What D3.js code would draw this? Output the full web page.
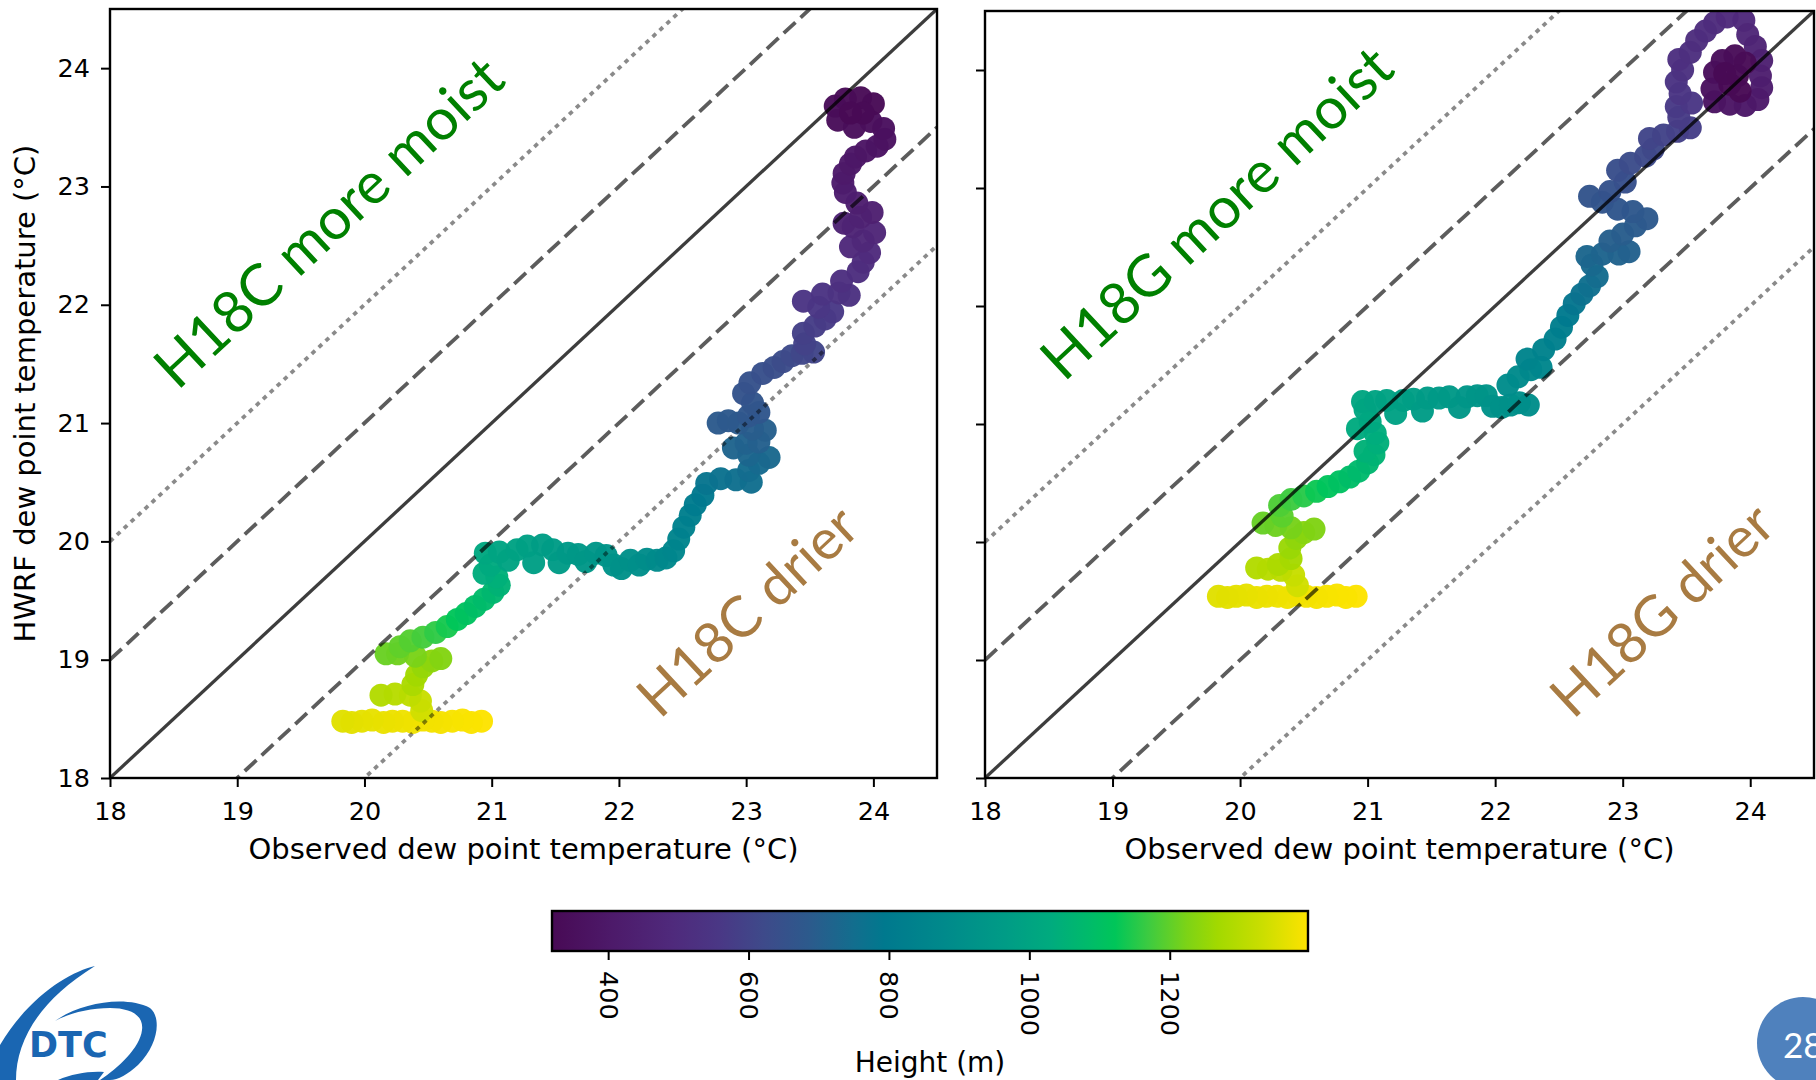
<!DOCTYPE html>
<html>
<head>
<meta charset="utf-8">
<script src="https://cdn.jsdelivr.net/npm/d3@7"></script>
<style>
  html, body { margin: 0; padding: 0; background: #fff; }
  svg { display: block; }
</style>
</head>
<body>
<svg id="fig" width="1816" height="1080"></svg>
<script>
// ---------------------------------------------------------------
// Dropsonde profile: observed vs HWRF dew point, coloured by height
// rows: [observed dew point (°C), HWRF dew point (°C), height (m)]
// ---------------------------------------------------------------
const h18c = [
  [20.92,18.48,1397],[20.84,18.47,1395],[20.77,18.49,1393],[20.69,18.48,1391],[20.60,18.47,1388],
  [20.53,18.48,1386],[20.46,18.49,1384],[20.38,18.47,1381],[20.30,18.48,1378],[20.22,18.48,1375],
  [20.15,18.47,1372],[20.06,18.49,1369],[19.98,18.48,1366],[19.90,18.47,1363],[19.83,18.48,1360],
  [20.45,18.57,1340],[20.44,18.65,1328],[20.36,18.70,1314],[20.24,18.71,1302],[20.13,18.70,1294],
  [20.38,18.79,1282],[20.41,18.87,1268],[20.46,18.94,1254],[20.53,18.99,1242],[20.60,19.01,1232],
  [20.40,19.03,1222],[20.26,19.05,1214],[20.17,19.05,1208],[20.28,19.11,1200],[20.36,19.16,1190],
  [20.46,19.19,1176],[20.56,19.23,1160],[20.65,19.28,1140],[20.73,19.34,1120],[20.80,19.39,1108],
  [20.87,19.45,1096],[20.94,19.51,1084],[21.01,19.57,1070],[21.06,19.63,1056],[21.04,19.70,1044],
  [20.94,19.73,1034],[20.99,19.80,1024],[20.95,19.90,1012],
  [21.06,19.91,1002],[21.13,19.84,996],[21.20,19.93,990],[21.28,19.96,984],[21.33,19.82,978],
  [21.40,19.97,972],[21.48,19.93,966],[21.53,19.82,960],[21.60,19.90,954],[21.68,19.89,948],
  [21.74,19.83,942],[21.82,19.90,936],[21.90,19.88,930],[21.96,19.80,922],[22.02,19.77,914],
  [22.09,19.84,906],[22.16,19.80,898],[22.22,19.85,890],[22.30,19.84,882],[22.37,19.86,872],
  [22.43,19.92,862],
  [22.47,20.02,850],[22.51,20.12,836],[22.56,20.22,822],[22.60,20.31,808],[22.66,20.39,792],
  [22.69,20.49,778],[22.80,20.53,768],[22.92,20.52,760],[23.04,20.50,752],[23.02,20.60,745],
  [23.10,20.66,738],[23.18,20.71,731],[23.02,20.73,725],[22.90,20.79,719],[23.00,20.83,713],
  [23.10,20.84,707],[23.15,20.94,701],[23.05,20.95,696],[22.94,21.00,691],[22.78,21.00,686],
  [22.86,21.02,681],[23.02,21.06,676],[23.10,21.09,671],[23.05,21.17,665],[22.98,21.25,659],
  [23.03,21.34,652],[23.13,21.42,644],[23.22,21.47,636],[23.29,21.52,628],[23.36,21.57,620],
  [23.44,21.59,612],[23.53,21.60,604],[23.46,21.67,596],[23.45,21.76,588],[23.54,21.82,580],
  [23.62,21.88,572],[23.68,21.94,564],[23.57,21.98,556],[23.45,22.03,549],[23.60,22.09,542],
  [23.73,22.10,536],[23.81,22.08,530],[23.75,22.20,522],[23.88,22.28,514],[23.92,22.36,505],
  [23.97,22.44,496],[23.82,22.49,488],[23.92,22.54,480],[24.01,22.61,472],[23.84,22.66,464],
  [23.77,22.69,456],[23.90,22.74,448],[23.99,22.78,440],[23.87,22.86,432],[23.78,22.95,424],
  [23.76,23.03,416],[23.77,23.11,408],[23.82,23.19,400],[23.86,23.25,392],[23.94,23.30,384],
  [24.03,23.34,376],[24.09,23.40,368],[24.08,23.49,360],[23.98,23.55,354],[23.85,23.50,348],
  [23.72,23.56,342],[23.70,23.68,337],[23.78,23.74,333],[23.90,23.75,329],[24.00,23.70,326],
  [23.92,23.62,323],[23.82,23.62,320]
];

const h18g = [
  [20.91,19.54,1397],[20.83,19.53,1395],[20.76,19.55,1393],[20.68,19.54,1391],[20.60,19.53,1388],
  [20.52,19.54,1386],[20.45,19.55,1384],[20.37,19.53,1381],[20.29,19.54,1378],[20.21,19.54,1375],
  [20.13,19.53,1372],[20.05,19.55,1369],[19.97,19.54,1366],[19.90,19.53,1363],[19.83,19.54,1360],
  [20.45,19.63,1340],[20.42,19.72,1326],[20.32,19.76,1312],[20.22,19.77,1302],[20.13,19.78,1294],
  [20.30,19.81,1284],[20.40,19.86,1272],[20.39,19.95,1258],[20.44,20.03,1246],[20.50,20.08,1236],
  [20.58,20.11,1228],[20.40,20.12,1220],[20.28,20.14,1212],[20.18,20.16,1206],[20.33,20.22,1196],
  [20.31,20.31,1184],[20.40,20.36,1170],[20.50,20.39,1154],[20.60,20.43,1132],[20.69,20.47,1116],
  [20.78,20.51,1104],[20.86,20.55,1092],[20.93,20.60,1080],[21.00,20.67,1068],[21.05,20.74,1058],
  [20.98,20.77,1050],[21.08,20.84,1042],[21.06,20.92,1034],[20.92,20.96,1026],[21.02,21.02,1018],
  [20.98,21.12,1010],[20.96,21.19,1004],
  [21.06,21.19,998],[21.15,21.20,992],[21.22,21.09,986],[21.28,21.20,980],[21.36,21.21,974],
  [21.43,21.11,968],[21.47,21.22,962],[21.56,21.22,956],[21.64,21.23,950],[21.72,21.14,944],
  [21.78,21.23,938],[21.86,21.24,932],[21.93,21.24,926],[21.98,21.15,920],[22.05,21.14,914],
  [22.12,21.16,908],[22.19,21.18,902],[22.26,21.16,896],
  [22.10,21.33,888],[22.18,21.40,878],[22.28,21.46,868],[22.36,21.48,860],[22.25,21.55,852],
  [22.38,21.63,842],[22.47,21.72,830],[22.52,21.82,818],[22.57,21.92,800],[22.62,22.02,782],
  [22.68,22.10,768],[22.74,22.17,756],[22.80,22.25,744],[22.76,22.35,734],[22.72,22.42,726],
  [22.84,22.44,720],[22.97,22.44,714],[23.05,22.46,708],[22.90,22.55,702],[23.00,22.61,696],
  [23.10,22.68,690],[23.19,22.74,684],[23.08,22.80,678],[22.96,22.82,672],[22.84,22.88,666],
  [22.74,22.93,660],[22.90,22.97,654],[23.02,23.05,646],[22.96,23.15,638],[23.06,23.21,630],
  [23.18,23.27,622],[23.24,23.33,614],[23.21,23.42,606],[23.32,23.45,598],[23.43,23.48,590],
  [23.53,23.51,582],[23.44,23.60,574],[23.42,23.69,566],[23.54,23.72,558],[23.45,23.80,550],
  [23.42,23.90,540],[23.47,24.00,530],[23.44,24.09,522],[23.53,24.15,516],[23.58,24.25,510],
  [23.65,24.33,505],[23.72,24.40,500],[23.82,24.45,494],[23.95,24.42,486],[23.98,24.30,474],
  [24.04,24.20,460],[24.09,24.08,446],[24.08,23.95,432],[24.09,23.85,420],[24.06,23.75,408],
  [23.96,23.70,396],[23.84,23.71,384],[23.72,23.73,372],[23.70,23.84,362],[23.72,23.98,352],
  [23.78,24.08,344],[23.88,24.12,336],[23.96,24.06,330],[23.90,23.95,325],[23.84,23.88,322],
  [23.80,23.97,321],[23.92,23.82,320]
];

// axis ticks and reference-line offsets (model minus observation, °C)
const tempTicks = [18, 19, 20, 21, 22, 23, 24];
const tempDomain = [18, 24.5];
const lineOffsets = [-2, -1, 0, 1, 2];
const heightTicks = [400, 600, 800, 1000, 1200];
const heightDomain = [320, 1397];

// colour map (fraction along the bar -> colour)
const cmapPos = [0, 0.08, 0.16, 0.22, 0.28, 0.34, 0.40, 0.44, 0.52, 0.60, 0.66, 0.71, 0.745, 0.79, 0.84, 0.88, 0.94, 1];
const cmapHex = ["#480a55","#4d1a6a","#4f2a7c","#4a3785","#3e4a8a","#2c5a8c","#126e8e","#00798e","#008a8b",
                 "#009c86","#00ab7e","#00bb6a","#00c659","#3ecb40","#7dd316","#a2d900","#cbde00","#fde300"];

const panelNames = ["H18C", "H18G"];
const moistText = panelNames.map(n => n + " more moist");
const drierText = panelNames.map(n => n + " drier");
const xLabel = "Observed dew point temperature (°C)";
const yLabel = "HWRF dew point temperature (°C)";
const cbarLabel = "Height (m)";

// ---------------------------------------------------------------
const svg = d3.select("#fig");
const defs = svg.append("defs");
const tickFont = "'DejaVu Sans', sans-serif";
const noteFont = "Lato, 'Open Sans', sans-serif";
const intFmt = d3.format("d");
const noteAngle = -43;

const cmap = d3.scaleLinear().domain(cmapPos).range(cmapHex).interpolate(d3.interpolateRgb).clamp(true);
const heightFrac = d3.scaleLinear().domain(heightDomain).range([0, 1]).clamp(true);
const heightColor = h => cmap(heightFrac(h));

const panels = [
  { id: "c", data: h18c, px: [110, 937], py: [778, 9], tickLabels: true,
    moist: moistText[0], moistAt: [18.53, 21.27], drier: drierText[0], drierAt: [22.32, 18.49] },
  { id: "g", data: h18g, px: [985, 1814], py: [778, 11], tickLabels: false,
    moist: moistText[1], moistAt: [18.62, 21.35], drier: drierText[1], drierAt: [22.61, 18.49] }
];

const lineStyle = {
  0: { w: 3.3, op: 0.76, dash: null },
  1: { w: 3.8, op: 0.64, dash: "16,7" },
  2: { w: 3.8, op: 0.46, dash: "4.5,5" }
};

panels.forEach(p => {
  const x = d3.scaleLinear().domain(tempDomain).range(p.px);
  const y = d3.scaleLinear().domain(tempDomain).range(p.py);
  const g = svg.append("g");

  defs.append("clipPath").attr("id", "clip-" + p.id)
    .append("rect")
    .attr("x", p.px[0]).attr("y", p.py[1])
    .attr("width", p.px[1] - p.px[0]).attr("height", p.py[0] - p.py[1]);

  const plot = g.append("g").attr("clip-path", `url(#clip-${p.id})`);

  // profile points, highest level first so the surface points sit on top
  plot.append("g").selectAll("circle")
    .data(p.data)
    .join("circle")
    .attr("cx", d => x(d[0]))
    .attr("cy", d => y(d[1]))
    .attr("r", 11.5)
    .attr("fill", d => heightColor(d[2]))
    .attr("fill-opacity", 0.97);

  // 1:1 line and ±1, ±2 °C offsets
  plot.append("g").selectAll("line")
    .data(lineOffsets)
    .join("line")
    .attr("x1", x(tempDomain[0])).attr("y1", k => y(tempDomain[0] + k))
    .attr("x2", x(tempDomain[1])).attr("y2", k => y(tempDomain[1] + k))
    .attr("stroke", "#000")
    .attr("stroke-width", k => lineStyle[Math.abs(k)].w)
    .attr("stroke-opacity", k => lineStyle[Math.abs(k)].op)
    .attr("stroke-dasharray", k => lineStyle[Math.abs(k)].dash);

  // region annotations
  g.append("text")
    .attr("transform", `translate(${x(p.moistAt[0])},${y(p.moistAt[1])}) rotate(${noteAngle})`)
    .attr("font-family", noteFont).attr("font-size", 58)
    .attr("fill", "#008000")
    .text(p.moist);
  g.append("text")
    .attr("transform", `translate(${x(p.drierAt[0])},${y(p.drierAt[1])}) rotate(${noteAngle})`)
    .attr("font-family", noteFont).attr("font-size", 56.5)
    .attr("fill", "#a87b42")
    .text(p.drier);

  // frame
  g.append("rect")
    .attr("x", p.px[0]).attr("y", p.py[1])
    .attr("width", p.px[1] - p.px[0]).attr("height", p.py[0] - p.py[1])
    .attr("fill", "none").attr("stroke", "#000").attr("stroke-width", 2.4);

  // axes
  const xAxis = d3.axisBottom(x).tickValues(tempTicks).tickFormat(intFmt)
    .tickSize(9).tickPadding(15).tickSizeOuter(0);
  const gx = g.append("g").attr("transform", `translate(0,${p.py[0]})`).call(xAxis);
  const yAxis = d3.axisLeft(y).tickValues(tempTicks).tickFormat(p.tickLabels ? intFmt : () => "")
    .tickSize(9).tickPadding(11).tickSizeOuter(0);
  const gy = g.append("g").attr("transform", `translate(${p.px[0]},0)`).call(yAxis);
  [gx, gy].forEach(a => {
    a.select(".domain").remove();
    a.selectAll(".tick line").attr("stroke", "#000").attr("stroke-width", 2);
    a.selectAll(".tick text").attr("font-family", tickFont).attr("font-size", 25.5).attr("fill", "#000");
  });

  g.append("text")
    .attr("x", (p.px[0] + p.px[1]) / 2).attr("y", 859)
    .attr("text-anchor", "middle")
    .attr("font-family", tickFont).attr("font-size", 29)
    .text(xLabel);

  if (p.tickLabels) {
    g.append("text")
      .attr("transform", `translate(35,${(p.py[0] + p.py[1]) / 2}) rotate(-90)`)
      .attr("text-anchor", "middle")
      .attr("font-family", tickFont).attr("font-size", 29)
      .text(yLabel);
  }
});

// ---------------------------------------------------------------
// colour bar
const cb = { x0: 552, x1: 1308, y0: 911, y1: 951 };
const hScale = d3.scaleLinear().domain(heightDomain).range([cb.x0, cb.x1]);
const grad = defs.append("linearGradient").attr("id", "cbar-grad")
  .attr("x1", "0%").attr("x2", "100%").attr("y1", "0%").attr("y2", "0%");
grad.selectAll("stop").data(cmapPos).join("stop")
  .attr("offset", d => (d * 100) + "%")
  .attr("stop-color", (d, i) => cmapHex[i]);

const cbg = svg.append("g");
cbg.append("rect")
  .attr("x", cb.x0).attr("y", cb.y0).attr("width", cb.x1 - cb.x0).attr("height", cb.y1 - cb.y0)
  .attr("fill", "url(#cbar-grad)").attr("stroke", "#000").attr("stroke-width", 2.4);

const cAxis = d3.axisBottom(hScale).tickValues(heightTicks).tickFormat(intFmt).tickSize(9).tickSizeOuter(0);
const gc = cbg.append("g").attr("transform", `translate(0,${cb.y1})`).call(cAxis);
gc.select(".domain").remove();
gc.selectAll(".tick line").attr("stroke", "#000").attr("stroke-width", 2);
gc.selectAll(".tick text")
  .attr("x", 0).attr("y", 0).attr("dy", "0.35em")
  .attr("transform", "translate(0,20) rotate(90)")
  .attr("text-anchor", "start")
  .attr("font-family", tickFont).attr("font-size", 25.5).attr("fill", "#000");

cbg.append("text")
  .attr("x", (cb.x0 + cb.x1) / 2).attr("y", 1072)
  .attr("text-anchor", "middle")
  .attr("font-family", tickFont).attr("font-size", 28)
  .text(cbarLabel);

// ---------------------------------------------------------------
// DTC logo (bottom left) and slide number (bottom right)
const logo = svg.append("g").attr("fill", "#1a66b2");
logo.append("path")
  .attr("d", "M95,966 C70,972 30,995 0,1045 L0,1080 L16,1080 C16,1040 40,1000 95,966 Z");
logo.append("path")
  .attr("d", "M55,1021 C80,1003 125,995 150,1008 C162,1018 158,1045 138,1065 C128,1074 118,1080 110,1080 L100,1080 C118,1068 140,1048 142,1030 C144,1015 130,1008 110,1008 C90,1008 70,1013 55,1021 Z");
logo.append("path")
  .attr("d", "M58,1080 C72,1074 88,1071 104,1072 L98,1080 Z");
logo.append("text")
  .attr("x", 29).attr("y", 1057)
  .attr("font-family", "'DejaVu Sans', sans-serif").attr("font-weight", "bold").attr("font-size", 35)
  .text("DTC");

svg.append("circle").attr("cx", 1803).attr("cy", 1043).attr("r", 46).attr("fill", "#4f81bd");
svg.append("text")
  .attr("x", 1783).attr("y", 1058)
  .attr("font-family", noteFont).attr("font-size", 35).attr("fill", "#fff")
  .text("28");
</script>
</body>
</html>
